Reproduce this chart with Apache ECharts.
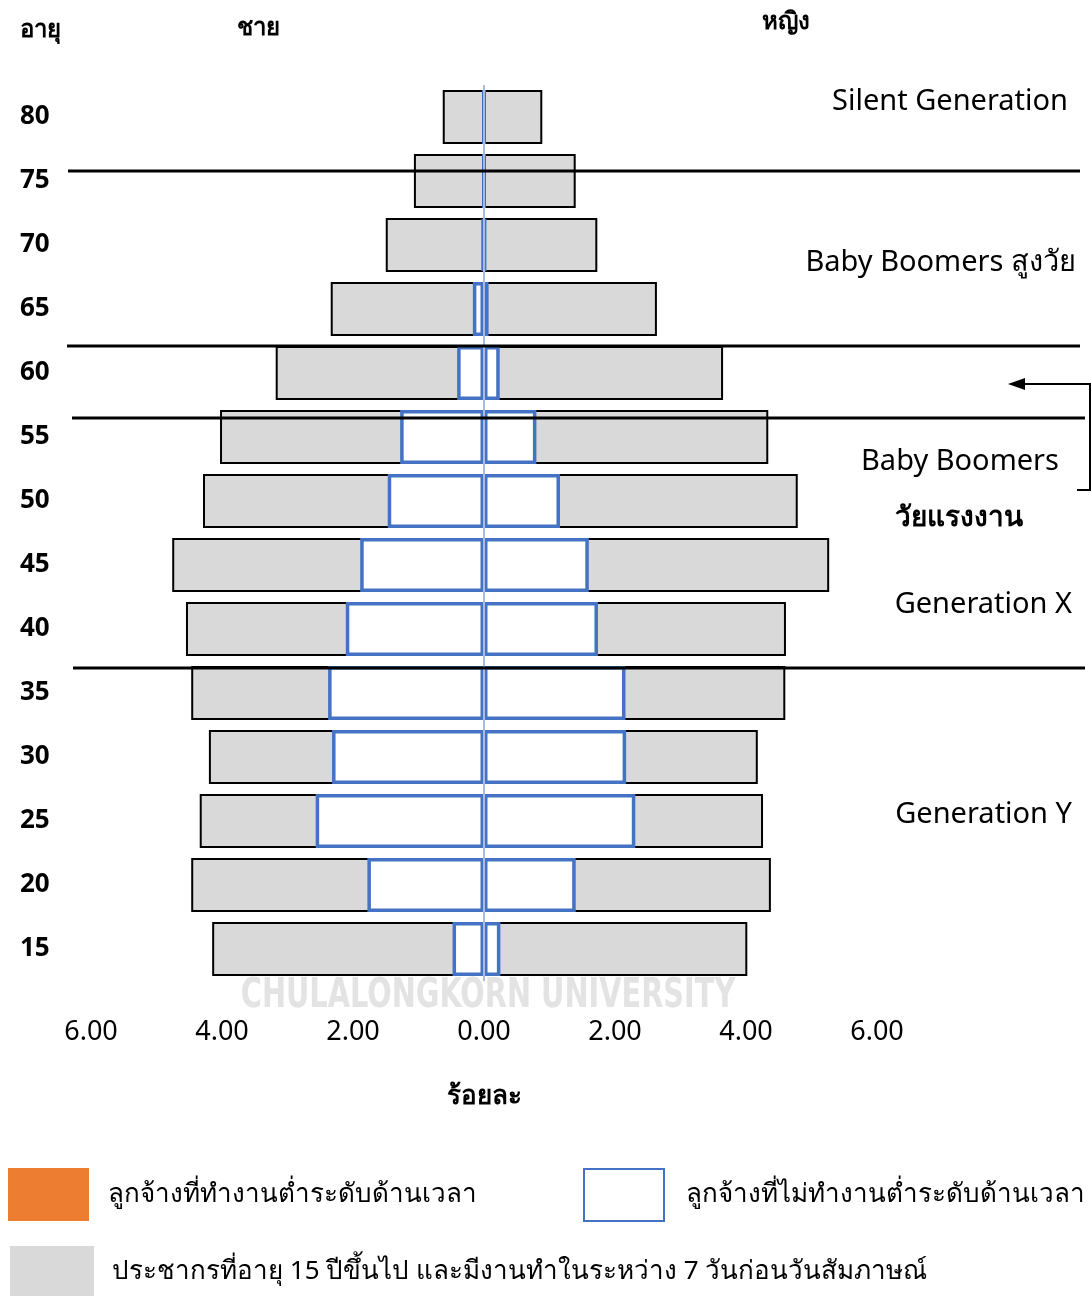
<!DOCTYPE html>
<html>
<head>
<meta charset="utf-8">
<script src="https://cdn.jsdelivr.net/npm/echarts@6/dist/echarts.min.js"></script>
<style>
  html, body { margin: 0; padding: 0; background: #fff; }
  #chart { width: 1091px; height: 1296px; }
</style>
</head>
<body>
<div id="chart"></div>
<script>
// age groups, bottom to top
const ageGroups = ['15', '20', '25', '30', '35', '40', '45', '50', '55', '60', '65', '70', '75', '80']

// employed population (% of total), gray bars
const maleEmployed = [4.15, 4.47, 4.34, 4.20, 4.47, 4.55, 4.76, 4.29, 4.03, 3.18, 2.34, 1.50, 1.07, 0.63]
const femaleEmployed = [4.02, 4.38, 4.26, 4.18, 4.60, 4.61, 5.27, 4.79, 4.34, 3.65, 2.64, 1.73, 1.40, 0.89]

// employees not time-related underemployed, white bars with blue border
const maleNotUnder = [0.48, 1.78, 2.57, 2.32, 2.38, 2.11, 1.89, 1.47, 1.28, 0.41, 0.17, 0.03, 0, 0]
const femaleNotUnder = [0.25, 1.40, 2.31, 2.17, 2.16, 1.74, 1.60, 1.16, 0.80, 0.24, 0.07, 0.02, 0, 0]

// time-related underemployed employees (too small to show)
const maleUnder = [0, 0, 0, 0, 0, 0, 0, 0, 0, 0, 0, 0, 0, 0]
const femaleUnder = [0, 0, 0, 0, 0, 0, 0, 0, 0, 0, 0, 0, 0, 0]

const xTicks = [-6, -4, -2, 0, 2, 4, 6]

const nameUnder = 'ลูกจ้างที่ทำงานต่ำระดับด้านเวลา'
const nameNotUnder = 'ลูกจ้างที่ไม่ทำงานต่ำระดับด้านเวลา'
const nameEmployed = 'ประชากรที่อายุ 15 ปีขึ้นไป และมีงานทำในระหว่าง 7 วันก่อนวันสัมภาษณ์'

const FONT = '"Noto Sans", "Open Sans", sans-serif'
const chart = echarts.init(document.getElementById('chart'))

const grayStyle = { color: '#d9d9d9', borderColor: '#000', borderWidth: 2 }
const blueStyle = { color: '#fff', borderColor: '#4472c4', borderWidth: 3.5 }
const orangeStyle = { color: '#ed7d31' }

function bar(name, data, style, extra) {
  return Object.assign({
    name: name,
    type: 'bar',
    data: data,
    barWidth: 54,
    barGap: '-100%',
    itemStyle: style,
    silent: true
  }, extra || {})
}

const neg = arr => arr.map(v => -v)

function hline(x1, x2, y) {
  return { type: 'line', shape: { x1: x1, y1: y, x2: x2, y2: y }, style: { stroke: '#000', lineWidth: 3 }, z: 50 }
}
function label(text, x, y, size, weight, align) {
  return {
    type: 'text', z: 50,
    style: { text: text, x: x, y: y, font: (weight || 'normal') + ' ' + size + 'px ' + FONT, fill: '#000', textAlign: align || 'left', textVerticalAlign: 'middle' }
  }
}

const legendText = { fontSize: 26, color: '#000' }

const option = {
  animation: false,
  textStyle: { fontFamily: FONT },
  grid: { left: 91, width: 786, top: 85, height: 896 },
  xAxis: {
    type: 'value',
    min: xTicks[0],
    max: xTicks[xTicks.length - 1],
    interval: 2,
    axisLine: { show: false },
    axisTick: { show: false },
    splitLine: { show: false },
    axisLabel: { color: '#000', fontSize: 27, margin: 38, formatter: v => Math.abs(v).toFixed(2) },
    name: 'ร้อยละ',
    nameLocation: 'middle',
    nameGap: 103,
    nameTextStyle: { color: '#000', fontSize: 26, fontWeight: 'bold' }
  },
  yAxis: {
    type: 'category',
    data: ageGroups,
    axisLine: { show: false },
    axisTick: { show: false },
    axisLabel: { color: '#000', fontSize: 26, fontWeight: 'bold', align: 'left', margin: 71 }
  },
  legend: [
    {
      data: [nameUnder], left: 8, top: 1168, padding: 0, itemWidth: 81, itemHeight: 53, icon: 'rect',
      selectedMode: false, textStyle: Object.assign({ padding: [0, 0, 0, 14] }, legendText)
    },
    {
      data: [nameNotUnder], left: 583, top: 1168, padding: 0, itemWidth: 80, itemHeight: 52, icon: 'rect',
      selectedMode: false, textStyle: Object.assign({ padding: [0, 0, 0, 17] }, legendText)
    },
    {
      data: [nameEmployed], left: 10, top: 1246, padding: 0, itemWidth: 84, itemHeight: 52, icon: 'rect',
      selectedMode: false, itemStyle: { borderWidth: 0 },
      textStyle: Object.assign({ padding: [0, 0, 0, 13] }, legendText)
    }
  ],
  series: [
    bar(nameEmployed, neg(maleEmployed), grayStyle),
    bar(nameEmployed, femaleEmployed, grayStyle),
    bar(nameNotUnder, neg(maleNotUnder), blueStyle),
    bar(nameNotUnder, femaleNotUnder, blueStyle),
    bar(nameUnder, neg(maleUnder), orangeStyle),
    bar(nameUnder, femaleUnder, orangeStyle, {
      markLine: {
        silent: true,
        symbol: 'none',
        label: { show: false },
        lineStyle: { color: '#a9bbdf', width: 2, type: 'solid' },
        data: [{ xAxis: 0 }]
      }
    })
  ],
  graphic: [
    // watermark
    {
      type: 'text', z: -1, x: 488, y: 997, scaleX: 0.8,
      style: { text: 'CHULALONGKORN UNIVERSITY', x: 0, y: 0, font: 'bold 40px "Liberation Sans Narrow", "DejaVu Sans Condensed", sans-serif', fill: '#e3e3e3', textAlign: 'center', textVerticalAlign: 'middle' }
    },
    // header
    label('อายุ', 20, 30, 24, 'bold'),
    label('ชาย', 258, 28, 24, 'bold', 'center'),
    label('หญิง', 786, 22, 24, 'bold', 'center'),
    // generation dividers
    hline(68, 1080, 171),
    hline(67, 1080, 346),
    hline(72, 1085, 418),
    hline(73, 1085, 668),
    // generation names
    label('Silent Generation', 1068, 102, 29, 'normal', 'right'),
    label('Baby Boomers สูงวัย', 1076, 263, 29, 'normal', 'right'),
    label('Baby Boomers', 960, 462, 29, 'normal', 'center'),
    label('วัยแรงงาน', 959, 518, 28, 'bold', 'center'),
    label('Generation X', 1072, 605, 29, 'normal', 'right'),
    label('Generation Y', 1072, 815, 29, 'normal', 'right'),
    // bracket arrow
    {
      type: 'polyline', z: 50,
      shape: { points: [[1022, 384], [1090, 384], [1090, 490], [1077, 490]] },
      style: { stroke: '#000', lineWidth: 2, fill: null }
    },
    {
      type: 'polygon', z: 50,
      shape: { points: [[1008, 384], [1025, 378], [1025, 390]] },
      style: { fill: '#000' }
    }
  ]
}

chart.setOption(option)
</script>
</body>
</html>
